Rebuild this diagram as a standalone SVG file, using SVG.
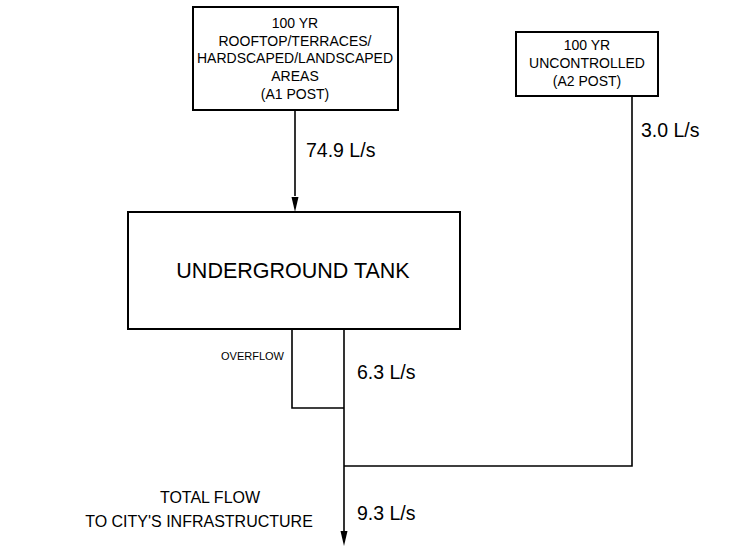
<svg xmlns="http://www.w3.org/2000/svg" width="735" height="547" viewBox="0 0 735 547">
<defs>
<style>
.box{fill:#fff;stroke:#000;stroke-width:2}
.ln{fill:none;stroke:#000;stroke-width:1.6}
text{font-family:"Liberation Sans",Arial,sans-serif;fill:#000}
.bt{font-size:14px;text-anchor:middle}
.lab{font-size:19.5px}
</style>
</defs>
<g id="connectors">
<path class="ln" d="M295,110 V196"/>
<path d="M291.5,197 L298.5,197 L295,212 Z"/>
<path class="ln" d="M292,329 V408 H344"/>
<path class="ln" d="M344,329 V532"/>
<path d="M340.5,531 L347.5,531 L344,546 Z"/>
<path class="ln" d="M632,96 V466 H344"/>
</g>
<g id="a1post">
<rect class="box" x="193" y="7" width="205" height="103"/>
<text class="bt" x="295" y="28">100 YR</text>
<text class="bt" x="295" y="46">ROOFTOP/TERRACES/</text>
<text class="bt" x="295" y="63">HARDSCAPED/LANDSCAPED</text>
<text class="bt" x="295" y="81">AREAS</text>
<text class="bt" x="295" y="99">(A1 POST)</text>
</g>
<g id="a2post">
<rect class="box" x="516" y="32" width="142" height="64"/>
<text class="bt" x="587" y="50">100 YR</text>
<text class="bt" x="587" y="68">UNCONTROLLED</text>
<text class="bt" x="587" y="86">(A2 POST)</text>
</g>
<g id="tank">
<rect class="box" x="128" y="212" width="332" height="117"/>
<text x="293" y="278" font-size="21.5" text-anchor="middle">UNDERGROUND TANK</text>
</g>
<g id="labels">
<text class="lab" x="306" y="157">74.9 L/s</text>
<text class="lab" x="641" y="137">3.0 L/s</text>
<text x="221" y="360" font-size="11">OVERFLOW</text>
<text class="lab" x="357" y="379">6.3 L/s</text>
<text class="lab" x="357" y="520">9.3 L/s</text>
<text x="210" y="503" font-size="16" text-anchor="middle">TOTAL FLOW</text>
<text x="199" y="527" font-size="16" text-anchor="middle">TO CITY'S INFRASTRUCTURE</text>
</g>
</svg>
